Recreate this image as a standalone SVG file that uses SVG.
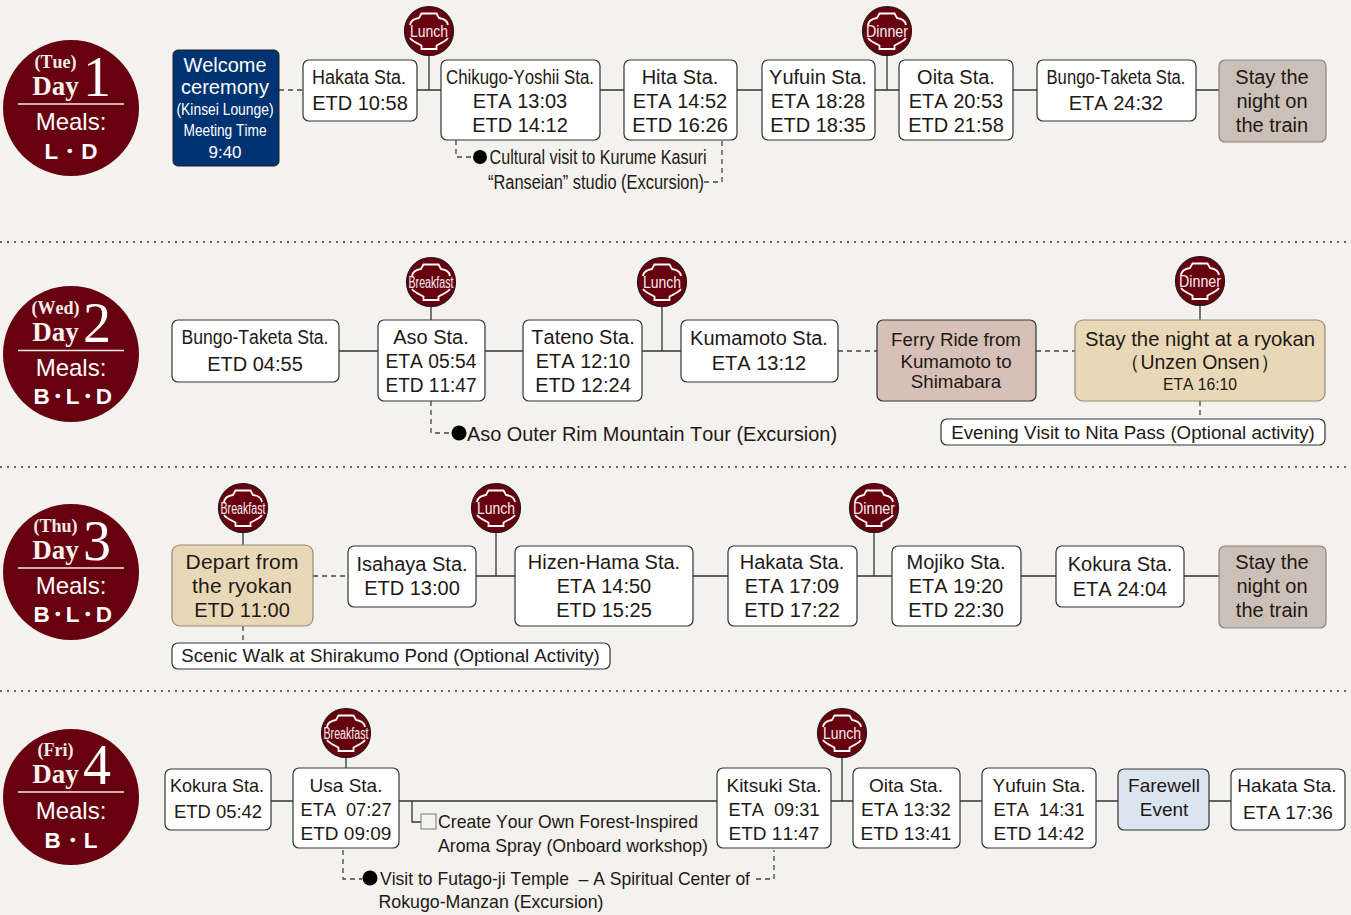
<svg xmlns="http://www.w3.org/2000/svg" width="1351" height="915" viewBox="0 0 1351 915">
<style>
text{font-family:"Liberation Sans",Arial,sans-serif;font-size:20px;fill:#231815;text-anchor:middle;font-kerning:none;white-space:pre}
.n{fill:#fff;stroke:#333;stroke-width:1.2}
.c{fill:none;stroke:#333;stroke-width:1.3}
.d{fill:none;stroke:#444;stroke-width:1.3;stroke-dasharray:5 4}
.sep{stroke:#666;stroke-width:2;stroke-dasharray:2 5}
.dc{fill:#67000f}
.dl{stroke:#f3ecea;stroke-width:1.5}
.pre{font-family:"Liberation Serif",serif;font-weight:bold;fill:#f3ece8;font-size:18px}
.day{font-family:"Liberation Serif",serif;font-weight:bold;fill:#f8f3f0;font-size:27px}
.num{font-family:"Liberation Serif",serif;font-size:56px;fill:#fff}
.ml{font-size:24px;fill:#fff}
.mb{font-size:22.5px;font-weight:bold;fill:#fff}
.mb3{letter-spacing:-3.4px}
.bt{font-size:16px;fill:#f8eeee}
.dot{fill:#000}
.orn{fill:none;stroke:#fff;stroke-width:1.8}
.bc{fill:#67000f;stroke:#231815;stroke-width:1.2}
.tan{fill:#e8d8b8;stroke:#9a8a75;stroke-width:1.2}
.gr{fill:#cbc0b7;stroke:#8c8078;stroke-width:1.2}
.fer{fill:#d6c0b7;stroke:#333;stroke-width:1.2}
.blu{fill:#dbe5f0;stroke:#333;stroke-width:1.2}
.wt{fill:#fff}
.s19{font-size:19px}
.s18{font-size:18.7px}
</style>
<defs>
<g id="badge"><circle r="24.5" class="bc"/><path class="orn" d="M-19 -6Q-18 -12 -10 -13L-7.5 -17.5L7.5 -17.5L10 -13Q18 -12 19 -6M-19 7Q-17 10 -7.5 14.5L-7.5 18L7.5 18L7.5 14.5Q17 10 19 7"/></g>
</defs>
<rect width="1351" height="915" fill="#f3f2ee"/>
<g id="separators"><line class="sep" x1="0" y1="242" x2="1351" y2="242"/><line class="sep" x1="0" y1="467" x2="1351" y2="467"/><line class="sep" x1="0" y1="691" x2="1351" y2="691"/></g>
<g id="connectors">
<path class="d" d="M279 90H303"/>
<path class="c" d="M417 90H441M600 90H624M737 90H762M875 90H899M1013 90H1037M1196 90H1219M429 56V90M887 56V90"/>
<path class="d" d="M456 140V157H473M704 182H722V140"/>
<path class="c" d="M339 351H378M485 351H523M642 351H681M431 306V320M662 306V351M1200 306V320"/>
<path class="d" d="M838 351H877M1036 351H1075M431 401V433H452M1200 401V419"/>
<path class="d" d="M313 576H348M243 626V643"/>
<path class="c" d="M476 576H515M693 576H728M857 576H892M1021 576H1056M1184 576H1219M243 532V545M496 532V576M874 532V576"/>
<path class="c" d="M271 801H293M399 801H717M831 801H853M960 801H982M1096 801H1118M1209 801H1231M346 758V769M842 758V801M412 801V822H421"/>
<path class="d" d="M343 850V879H362M756 879H774V850"/>
</g>
<g id="day1"><circle class="dc" cx="71" cy="108" r="68"/><text class="pre" x="55.5" y="68">(Tue)</text><text class="day" x="55.5" y="95">Day</text><text class="num" x="97" y="96">1</text><line class="dl" x1="18" x2="124" y1="104" y2="104"/><text class="ml" x="71" y="130">Meals:</text><text class="mb" x="71" y="159">L・D</text></g>
<g id="day2"><circle class="dc" cx="71" cy="354" r="68"/><text class="pre" x="55.5" y="314">(Wed)</text><text class="day" x="55.5" y="341">Day</text><text class="num" x="97" y="342">2</text><line class="dl" x1="18" x2="124" y1="350.5" y2="350.5"/><text class="ml" x="71" y="376">Meals:</text><text class="mb mb3" x="71" y="404">B・L・D</text></g>
<g id="day3"><circle class="dc" cx="71" cy="572" r="68"/><text class="pre" x="55.5" y="532">(Thu)</text><text class="day" x="55.5" y="559">Day</text><text class="num" x="97" y="560">3</text><line class="dl" x1="18" x2="124" y1="568" y2="568"/><text class="ml" x="71" y="594">Meals:</text><text class="mb mb3" x="71" y="622">B・L・D</text></g>
<g id="day4"><circle class="dc" cx="71" cy="797" r="68"/><text class="pre" x="55.5" y="756">(Fri)</text><text class="day" x="55.5" y="783">Day</text><text class="num" x="97" y="784">4</text><line class="dl" x1="18" x2="124" y1="792" y2="792"/><text class="ml" x="71" y="819">Meals:</text><text class="mb" x="71" y="848">B・L</text></g>
<g id="welcome"><rect x="173" y="50" width="106" height="116" rx="5" fill="#003371" stroke="#222"/><text class="wt" x="225" y="72" style="font-size:21px" textLength="83" lengthAdjust="spacingAndGlyphs">Welcome</text><text class="wt" x="225" y="94" style="font-size:21px" textLength="88" lengthAdjust="spacingAndGlyphs">ceremony</text><text class="wt" x="225" y="115" style="font-size:17px" textLength="97" lengthAdjust="spacingAndGlyphs">(Kinsei Lounge)</text><text class="wt" x="225" y="136" style="font-size:17px" textLength="83" lengthAdjust="spacingAndGlyphs">Meeting Time</text><text class="wt" x="225" y="158" style="font-size:17px">9:40</text></g>
<g id="hakata1"><rect class="n" x="303" y="60" width="114" height="61" rx="6"/><text x="359" y="84" textLength="94" lengthAdjust="spacingAndGlyphs">Hakata Sta.</text><text x="360" y="110">ETD 10:58</text></g>
<g id="chikugo"><rect class="n" x="441" y="60" width="159" height="80" rx="6"/><text x="520" y="84" textLength="148" lengthAdjust="spacingAndGlyphs">Chikugo-Yoshii Sta.</text><text x="520" y="108">ETA 13:03</text><text x="520" y="132">ETD 14:12</text></g>
<g id="hita"><rect class="n" x="624" y="60" width="113" height="80" rx="6"/><text x="680" y="84">Hita Sta.</text><text x="680" y="108">ETA 14:52</text><text x="680" y="132">ETD 16:26</text></g>
<g id="yufuin1"><rect class="n" x="762" y="60" width="113" height="80" rx="6"/><text x="818" y="84">Yufuin Sta.</text><text x="818" y="108">ETA 18:28</text><text x="818" y="132">ETD 18:35</text></g>
<g id="oita1"><rect class="n" x="899" y="60" width="114" height="80" rx="6"/><text x="956" y="84">Oita Sta.</text><text x="956" y="108">ETA 20:53</text><text x="956" y="132">ETD 21:58</text></g>
<g id="bungo1"><rect class="n" x="1037" y="60" width="159" height="61" rx="6"/><text x="1116" y="84" textLength="139" lengthAdjust="spacingAndGlyphs">Bungo-Taketa Sta.</text><text x="1116" y="110">ETA 24:32</text></g>
<g id="stay1"><rect class="gr" x="1219" y="60" width="107" height="82" rx="6"/><text x="1272" y="84">Stay the</text><text x="1272" y="108">night on</text><text x="1272" y="132">the train</text></g>
<g id="note1"><circle class="dot" cx="480" cy="157" r="7"/><text x="598" y="164" textLength="217" lengthAdjust="spacingAndGlyphs">Cultural visit to Kurume Kasuri</text><text x="596" y="189" textLength="216" lengthAdjust="spacingAndGlyphs">“Ranseian” studio (Excursion)</text></g>
<g id="lunch1" transform="translate(429 31)"><use href="#badge"/><text class="bt" y="5.5" textLength="38" lengthAdjust="spacingAndGlyphs">Lunch</text></g>
<g id="dinner1" transform="translate(887 31)"><use href="#badge"/><text class="bt" y="5.5" textLength="42" lengthAdjust="spacingAndGlyphs">Dinner</text></g>

<g id="bungo2"><rect class="n" x="172" y="320" width="167" height="62" rx="6"/><text x="255" y="344" textLength="147" lengthAdjust="spacingAndGlyphs">Bungo-Taketa Sta.</text><text x="255" y="371">ETD 04:55</text></g>
<g id="aso"><rect class="n" x="378" y="320" width="107" height="81" rx="6"/><text x="431" y="344">Aso Sta.</text><text x="431" y="368" textLength="91" lengthAdjust="spacingAndGlyphs">ETA 05:54</text><text x="431" y="392" textLength="91" lengthAdjust="spacingAndGlyphs">ETD 11:47</text></g>
<g id="tateno"><rect class="n" x="523" y="320" width="119" height="81" rx="6"/><text x="583" y="344">Tateno Sta.</text><text x="583" y="368">ETA 12:10</text><text x="583" y="392">ETD 12:24</text></g>
<g id="kumamoto"><rect class="n" x="681" y="320" width="157" height="62" rx="6"/><text x="759" y="345">Kumamoto Sta.</text><text x="759" y="370">ETA 13:12</text></g>
<g id="ferry"><rect class="fer" x="877" y="320" width="159" height="81" rx="6"/><text x="956" y="346" class="s18">Ferry Ride from</text><text x="956" y="368" class="s18">Kumamoto to</text><text x="956" y="388" class="s18">Shimabara</text></g>
<g id="ryokan"><rect class="tan" x="1075" y="320" width="250" height="81" rx="8"/><text x="1200" y="346" style="font-size:20.3px">Stay the night at a ryokan</text><text x="1200" y="369" style="font-size:19.5px">（Unzen Onsen）</text><text x="1200" y="390" style="font-size:15.7px">ETA 16:10</text></g>
<g id="nita"><rect class="n" x="941" y="419" width="384" height="26" rx="6"/><text x="1133" y="439" class="s18">Evening Visit to Nita Pass (Optional activity)</text></g>
<g id="note2"><circle class="dot" cx="459" cy="433" r="7.5"/><text x="652" y="441" textLength="370" lengthAdjust="spacingAndGlyphs">Aso Outer Rim Mountain Tour (Excursion)</text></g>
<g id="breakfast2" transform="translate(431 282)"><use href="#badge"/><text class="bt" y="5.5" textLength="45" lengthAdjust="spacingAndGlyphs">Breakfast</text></g>
<g id="lunch2" transform="translate(662 282)"><use href="#badge"/><text class="bt" y="5.5" textLength="38" lengthAdjust="spacingAndGlyphs">Lunch</text></g>
<g id="dinner2" transform="translate(1200 281)"><use href="#badge"/><text class="bt" y="5.5" textLength="42" lengthAdjust="spacingAndGlyphs">Dinner</text></g>

<g id="depart"><rect class="tan" x="172" y="545" width="141" height="81" rx="8"/><text x="242" y="569" style="font-size:21px" textLength="113" lengthAdjust="spacing">Depart from</text><text x="242" y="593" style="font-size:21px" textLength="100" lengthAdjust="spacing">the ryokan</text><text x="242" y="617">ETD 11:00</text></g>
<g id="isahaya"><rect class="n" x="348" y="546" width="128" height="61" rx="6"/><text x="412" y="571">Isahaya Sta.</text><text x="412" y="595">ETD 13:00</text></g>
<g id="hizen"><rect class="n" x="515" y="546" width="178" height="80" rx="6"/><text x="604" y="569">Hizen-Hama Sta.</text><text x="604" y="593">ETA 14:50</text><text x="604" y="617">ETD 15:25</text></g>
<g id="hakata3"><rect class="n" x="728" y="546" width="129" height="80" rx="6"/><text x="792" y="569">Hakata Sta.</text><text x="792" y="593">ETA 17:09</text><text x="792" y="617">ETD 17:22</text></g>
<g id="mojiko"><rect class="n" x="892" y="546" width="129" height="80" rx="6"/><text x="956" y="569">Mojiko Sta.</text><text x="956" y="593">ETA 19:20</text><text x="956" y="617">ETD 22:30</text></g>
<g id="kokura3"><rect class="n" x="1056" y="546" width="128" height="61" rx="6"/><text x="1120" y="571">Kokura Sta.</text><text x="1120" y="596">ETA 24:04</text></g>
<g id="stay3"><rect class="gr" x="1219" y="546" width="107" height="82" rx="6"/><text x="1272" y="569">Stay the</text><text x="1272" y="593">night on</text><text x="1272" y="617">the train</text></g>
<g id="shirakumo"><rect class="n" x="172" y="643" width="438" height="26" rx="6"/><text x="390.5" y="662" class="s18">Scenic Walk at Shirakumo Pond (Optional Activity)</text></g>
<g id="breakfast3" transform="translate(243 508)"><use href="#badge"/><text class="bt" y="5.5" textLength="45" lengthAdjust="spacingAndGlyphs">Breakfast</text></g>
<g id="lunch3" transform="translate(496 508)"><use href="#badge"/><text class="bt" y="5.5" textLength="38" lengthAdjust="spacingAndGlyphs">Lunch</text></g>
<g id="dinner3" transform="translate(874 508)"><use href="#badge"/><text class="bt" y="5.5" textLength="42" lengthAdjust="spacingAndGlyphs">Dinner</text></g>

<g id="kokura4"><rect class="n" x="165" y="769" width="106" height="61" rx="6"/><text x="217" y="791.5" class="s19" textLength="94" lengthAdjust="spacingAndGlyphs">Kokura Sta.</text><text x="218" y="818" class="s19" textLength="88" lengthAdjust="spacingAndGlyphs">ETD 05:42</text></g>
<g id="usa"><rect class="n" x="293" y="768" width="106" height="80" rx="6"/><text x="346" y="791.5" class="s19">Usa Sta.</text><text x="346" y="816" class="s19" textLength="91" lengthAdjust="spacingAndGlyphs">ETA  07:27</text><text x="346" y="840" class="s19">ETD 09:09</text></g>
<g id="kitsuki"><rect class="n" x="717" y="768" width="114" height="80" rx="6"/><text x="774" y="791.5" class="s19">Kitsuki Sta.</text><text x="774" y="816" class="s19" textLength="91" lengthAdjust="spacingAndGlyphs">ETA  09:31</text><text x="774" y="840" class="s19">ETD 11:47</text></g>
<g id="oita4"><rect class="n" x="853" y="768" width="107" height="80" rx="6"/><text x="906" y="791.5" class="s19">Oita Sta.</text><text x="906" y="816" class="s19">ETA 13:32</text><text x="906" y="840" class="s19">ETD 13:41</text></g>
<g id="yufuin4"><rect class="n" x="982" y="768" width="114" height="80" rx="6"/><text x="1039" y="791.5" class="s19">Yufuin Sta.</text><text x="1039" y="816" class="s19" textLength="91" lengthAdjust="spacingAndGlyphs">ETA  14:31</text><text x="1039" y="840" class="s19">ETD 14:42</text></g>
<g id="farewell"><rect class="blu" x="1118" y="769" width="91" height="61" rx="6"/><text x="1164" y="791.5" class="s19">Farewell</text><text x="1164" y="816" class="s19">Event</text></g>
<g id="hakata4"><rect class="n" x="1231" y="769" width="114" height="61" rx="6"/><text x="1287" y="791.5" class="s19">Hakata Sta.</text><text x="1288" y="818.5" class="s19">ETA 17:36</text></g>
<g id="note4a"><rect x="421" y="814" width="15" height="15" fill="none" stroke="#777"/><text x="568" y="828" textLength="260" lengthAdjust="spacingAndGlyphs" class="s19">Create Your Own Forest-Inspired</text><text x="573" y="852" textLength="270" lengthAdjust="spacingAndGlyphs" class="s19">Aroma Spray (Onboard workshop)</text></g>
<g id="note4b"><circle class="dot" cx="370" cy="878" r="7.5"/><text x="565" y="885" textLength="370" lengthAdjust="spacingAndGlyphs" class="s19">Visit to Futago-ji Temple  – A Spiritual Center of</text><text x="491" y="908" textLength="225" lengthAdjust="spacingAndGlyphs" class="s19">Rokugo-Manzan (Excursion)</text></g>
<g id="breakfast4" transform="translate(346 733)"><use href="#badge"/><text class="bt" y="5.5" textLength="45" lengthAdjust="spacingAndGlyphs">Breakfast</text></g>
<g id="lunch4" transform="translate(842 733)"><use href="#badge"/><text class="bt" y="5.5" textLength="38" lengthAdjust="spacingAndGlyphs">Lunch</text></g>
</svg>
